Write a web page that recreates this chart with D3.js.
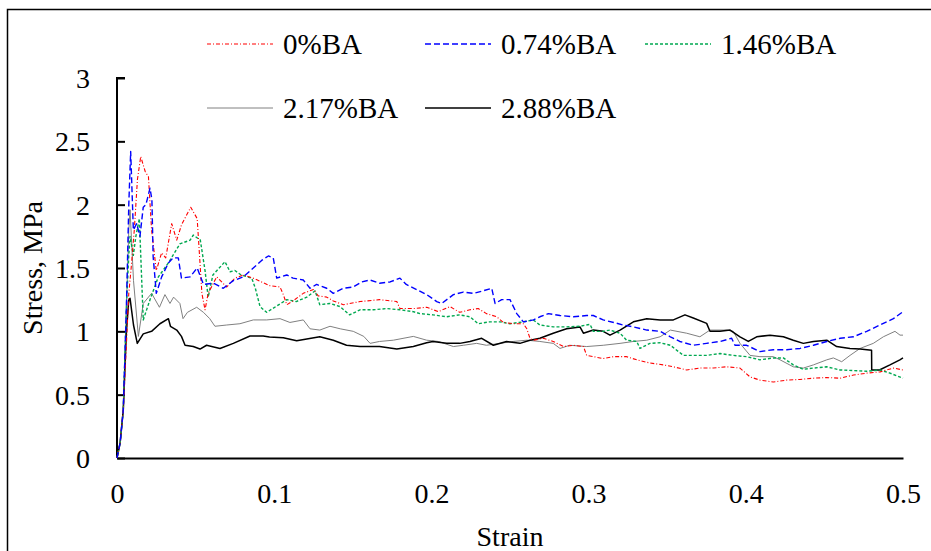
<!DOCTYPE html>
<html><head><meta charset="utf-8">
<script src="https://cdn.jsdelivr.net/npm/d3@7/dist/d3.min.js"></script>
<style>body{margin:0;background:#fff;} svg{display:block;}</style></head>
<body><svg id="c" width="931" height="551" font-family="Liberation Serif"></svg>
<script>
const xTicks=[0,0.1,0.2,0.3,0.4,0.5];
const yTicks=[0,0.5,1,1.5,2,2.5,3];
const seriesNames=["0%BA","0.74%BA","1.46%BA","2.17%BA","2.88%BA"];
const s0=[[0,0],[0.002,0.12],[0.004,0.38],[0.006,0.9],[0.0075,1.3],[0.009,1.5],[0.011,1.8],[0.013,2.2],[0.0151,2.38],[0.017,2.3],[0.018,2.26],[0.02,2.22],[0.022,1.80],[0.025,1.48],[0.0284,1.62],[0.031,1.58],[0.0348,1.85],[0.038,1.72],[0.041,1.84],[0.0469,1.98],[0.051,1.89],[0.0528,1.54],[0.054,1.30],[0.056,1.17],[0.058,1.30],[0.0634,1.43],[0.0698,1.35],[0.075,1.42],[0.0804,1.445],[0.0867,1.42],[0.092,1.39],[0.0973,1.36],[0.1037,1.35],[0.1058,1.29],[0.108,1.21],[0.112,1.24],[0.1185,1.30],[0.125,1.33],[0.128,1.28],[0.1334,1.27],[0.1376,1.24],[0.144,1.21],[0.1546,1.235],[0.167,1.25],[0.178,1.235],[0.180,1.18],[0.189,1.18],[0.197,1.19],[0.2044,1.155],[0.2118,1.195],[0.218,1.15],[0.2245,1.17],[0.2298,1.18],[0.235,1.14],[0.2415,1.115],[0.2458,1.07],[0.252,1.06],[0.2585,1.06],[0.2607,1.02],[0.2627,0.945],[0.265,0.93],[0.2712,0.945],[0.2775,0.92],[0.284,0.88],[0.2903,0.89],[0.2967,0.88],[0.2988,0.81],[0.303,0.80],[0.3093,0.785],[0.3157,0.80],[0.3242,0.80],[0.3306,0.775],[0.339,0.75],[0.3476,0.735],[0.354,0.72],[0.3624,0.695],[0.3708,0.71],[0.3793,0.71],[0.3878,0.72],[0.3963,0.71],[0.4027,0.64],[0.409,0.615],[0.4175,0.60],[0.426,0.615],[0.4345,0.62],[0.443,0.63],[0.4515,0.635],[0.46,0.63],[0.4685,0.655],[0.4769,0.67],[0.4854,0.68],[0.4939,0.71],[0.5,0.695]];
const s1=[[0,0],[0.002,0.12],[0.004,0.38],[0.006,1.2],[0.0075,2.0],[0.0087,2.42],[0.0104,1.80],[0.0125,1.85],[0.0146,1.75],[0.0167,1.98],[0.0184,2.0],[0.021,2.13],[0.0222,2.04],[0.023,1.59],[0.025,1.30],[0.0284,1.43],[0.0327,1.54],[0.0357,1.58],[0.039,1.58],[0.041,1.42],[0.0465,1.43],[0.051,1.50],[0.055,1.37],[0.0614,1.38],[0.0676,1.34],[0.074,1.40],[0.0803,1.43],[0.0867,1.50],[0.092,1.56],[0.0963,1.595],[0.0994,1.58],[0.1016,1.42],[0.108,1.445],[0.112,1.42],[0.1185,1.405],[0.1228,1.34],[0.127,1.37],[0.1334,1.34],[0.1376,1.30],[0.144,1.34],[0.1503,1.35],[0.1556,1.39],[0.161,1.405],[0.167,1.38],[0.1737,1.39],[0.180,1.42],[0.184,1.37],[0.1906,1.33],[0.197,1.29],[0.2034,1.235],[0.2066,1.22],[0.214,1.29],[0.2203,1.31],[0.2267,1.30],[0.233,1.32],[0.2384,1.34],[0.2405,1.22],[0.2447,1.25],[0.250,1.25],[0.2543,1.14],[0.2585,1.075],[0.265,1.09],[0.269,1.115],[0.2744,1.14],[0.2818,1.125],[0.2903,1.115],[0.2988,1.125],[0.303,1.125],[0.3093,1.09],[0.316,1.07],[0.322,1.05],[0.3285,1.035],[0.337,1.01],[0.3455,1.00],[0.352,0.957],[0.358,0.92],[0.3666,0.89],[0.375,0.905],[0.3836,0.92],[0.391,0.945],[0.3931,0.89],[0.4005,0.89],[0.409,0.84],[0.4175,0.855],[0.426,0.855],[0.4345,0.865],[0.443,0.89],[0.4515,0.92],[0.46,0.945],[0.4685,0.957],[0.4769,1.00],[0.4854,1.05],[0.4939,1.10],[0.5,1.155]];
const s2=[[0,0],[0.002,0.12],[0.004,0.38],[0.006,1.2],[0.0075,1.6],[0.0083,1.75],[0.0104,1.6],[0.012,1.75],[0.0142,1.89],[0.0167,1.09],[0.021,1.25],[0.0263,1.43],[0.0327,1.54],[0.040,1.69],[0.0465,1.72],[0.0485,1.76],[0.053,1.72],[0.056,1.48],[0.058,1.27],[0.061,1.445],[0.0687,1.55],[0.0719,1.47],[0.075,1.48],[0.079,1.445],[0.0857,1.42],[0.088,1.34],[0.091,1.195],[0.0952,1.15],[0.1016,1.20],[0.108,1.25],[0.114,1.235],[0.1207,1.27],[0.126,1.32],[0.129,1.21],[0.1355,1.22],[0.1419,1.195],[0.148,1.13],[0.1546,1.17],[0.163,1.17],[0.1716,1.18],[0.180,1.17],[0.1885,1.155],[0.1927,1.14],[0.201,1.13],[0.2097,1.115],[0.218,1.13],[0.2245,1.115],[0.2298,1.06],[0.237,1.075],[0.2436,1.075],[0.250,1.06],[0.2585,1.075],[0.2648,1.09],[0.269,1.05],[0.2775,1.035],[0.286,1.035],[0.2945,1.04],[0.3009,1.055],[0.303,1.00],[0.3093,1.00],[0.3136,1.01],[0.32,0.985],[0.3242,0.93],[0.3306,0.92],[0.3327,0.865],[0.339,0.905],[0.3455,0.91],[0.352,0.89],[0.3603,0.81],[0.3666,0.81],[0.375,0.81],[0.3836,0.825],[0.392,0.81],[0.4005,0.80],[0.409,0.775],[0.4175,0.79],[0.4239,0.79],[0.4302,0.735],[0.4366,0.70],[0.443,0.71],[0.4515,0.72],[0.46,0.695],[0.4685,0.69],[0.4769,0.685],[0.4854,0.695],[0.4917,0.67],[0.5,0.63]];
const s3=[[0,0],[0.002,0.12],[0.004,0.38],[0.006,1.2],[0.0075,1.8],[0.0083,1.96],[0.0105,1.4],[0.0136,0.96],[0.0167,1.22],[0.022,1.30],[0.027,1.19],[0.0305,1.29],[0.0337,1.22],[0.036,1.27],[0.040,1.22],[0.042,1.10],[0.0448,1.15],[0.0507,1.19],[0.055,1.15],[0.059,1.10],[0.0623,1.04],[0.0698,1.05],[0.0782,1.06],[0.0867,1.09],[0.0952,1.09],[0.1037,1.10],[0.110,1.07],[0.1185,1.09],[0.1228,1.02],[0.129,1.01],[0.1355,1.04],[0.142,1.02],[0.1503,1.00],[0.157,0.96],[0.161,0.905],[0.167,0.92],[0.1758,0.93],[0.1885,0.96],[0.197,0.93],[0.2044,0.92],[0.214,0.88],[0.2203,0.89],[0.2288,0.905],[0.235,0.89],[0.2436,0.905],[0.252,0.92],[0.2607,0.93],[0.269,0.92],[0.2775,0.905],[0.2818,0.865],[0.288,0.89],[0.2988,0.88],[0.3093,0.89],[0.32,0.905],[0.3285,0.92],[0.337,0.93],[0.3455,0.957],[0.352,1.01],[0.3624,0.985],[0.3708,0.957],[0.3772,1.01],[0.3878,1.01],[0.392,1.00],[0.3963,0.905],[0.4027,0.81],[0.409,0.80],[0.4175,0.80],[0.4218,0.775],[0.4302,0.72],[0.4366,0.71],[0.443,0.735],[0.4515,0.775],[0.4557,0.79],[0.461,0.76],[0.4663,0.81],[0.4727,0.865],[0.4811,0.905],[0.4875,0.957],[0.4949,1.00],[0.4981,0.97],[0.5,0.97]];
const s4=[[0,0],[0.002,0.12],[0.004,0.38],[0.006,1.0],[0.0075,1.25],[0.0083,1.26],[0.0105,1.05],[0.0129,0.905],[0.0167,0.98],[0.022,1.0],[0.0273,1.06],[0.0327,1.10],[0.034,1.04],[0.038,1.01],[0.041,0.96],[0.0433,0.89],[0.0485,0.88],[0.0528,0.86],[0.057,0.89],[0.0655,0.865],[0.074,0.905],[0.0846,0.963],[0.093,0.963],[0.097,0.955],[0.1058,0.95],[0.1143,0.925],[0.1207,0.94],[0.129,0.957],[0.1376,0.93],[0.146,0.89],[0.1546,0.88],[0.167,0.88],[0.178,0.86],[0.1885,0.88],[0.197,0.91],[0.201,0.92],[0.2097,0.905],[0.218,0.905],[0.2245,0.92],[0.232,0.945],[0.2394,0.89],[0.2478,0.92],[0.2563,0.905],[0.2627,0.93],[0.269,0.945],[0.2775,0.985],[0.286,1.02],[0.2945,1.035],[0.2967,0.985],[0.303,1.01],[0.3093,1.00],[0.3136,0.97],[0.32,1.01],[0.3285,1.075],[0.337,1.10],[0.3455,1.09],[0.3539,1.09],[0.3613,1.13],[0.3666,1.105],[0.3751,1.063],[0.3772,1.00],[0.3836,1.00],[0.39,1.01],[0.3963,0.957],[0.4016,0.92],[0.4069,0.957],[0.4154,0.97],[0.4239,0.957],[0.4302,0.93],[0.4366,0.905],[0.443,0.92],[0.4515,0.93],[0.4578,0.88],[0.4663,0.865],[0.4727,0.86],[0.480,0.85],[0.4801,0.695],[0.485,0.695],[0.4917,0.735],[0.498,0.775],[0.5,0.79]];
const seriesData=[s0,s1,s2,s3,s4];

const FONT="Liberation Serif";
const styles=[
 {color:"#ff0000",width:1.1,dash:"4,2,1,2"},
 {color:"#0000ff",width:1.4,dash:"6,3"},
 {color:"#00a850",width:1.4,dash:"3,2"},
 {color:"#808080",width:1,dash:null},
 {color:"#000000",width:1.5,dash:null}
];

const svg=d3.select("#c");
svg.append("rect").attr("x",7.5).attr("y",9.5).attr("width",960).attr("height",600)
  .attr("fill","#fff").attr("stroke","#000").attr("stroke-width",1.5);

const x=d3.scaleLinear().domain([0,0.5]).range([117,903]);
const y=d3.scaleLinear().domain([0,3]).range([458,78]);

// y axis
const ya=svg.append("g").attr("transform","translate(117,0)")
  .call(d3.axisRight(y).tickValues(yTicks).tickSize(8).tickFormat(d=>d3.format("")(d)));
ya.attr("font-family",FONT);
ya.select(".domain").attr("stroke","#000").attr("stroke-width",2).attr("d","M8,78H0V458");
ya.selectAll(".tick line").attr("stroke","#000").attr("stroke-width",2);
ya.selectAll(".tick text").attr("x",-27).attr("text-anchor","end").attr("dy","0.34em")
  .attr("font-size",28).attr("fill","#000").attr("font-family",FONT);

// x axis
const xa=svg.append("g").attr("transform","translate(0,458)")
  .call(d3.axisBottom(x).tickValues(xTicks).tickSize(0).tickFormat(d=>d3.format("")(d)));
xa.attr("font-family",FONT);
xa.select(".domain").attr("stroke","#000").attr("stroke-width",2);
xa.selectAll(".tick text").attr("y",45).attr("dy",null)
  .attr("font-size",28).attr("fill","#000").attr("font-family",FONT);

// titles
svg.append("text").attr("x",510).attr("y",546).attr("text-anchor","middle")
  .attr("font-family",FONT).attr("font-size",28).text("Strain");
svg.append("text").attr("transform","translate(42,268) rotate(-90)").attr("text-anchor","middle")
  .attr("font-family",FONT).attr("font-size",28).text("Stress, MPa");

// lines
const line=d3.line().x(d=>x(d[0])).y(d=>y(d[1]));
const order=[3,4,2,0,1];
order.forEach(i=>{
  const st=styles[i];
  svg.append("path").datum(seriesData[i]).attr("d",line).attr("fill","none")
    .attr("stroke",st.color).attr("stroke-width",st.width)
    .attr("stroke-dasharray",st.dash).attr("stroke-linejoin","round");
});

// legend
const legPos=[[207,44],[425,44],[645,44],[207,108],[425,108]];
seriesNames.forEach((n,i)=>{
  const st=styles[i];const p=legPos[i];
  svg.append("line").attr("x1",p[0]).attr("x2",p[0]+66).attr("y1",p[1]).attr("y2",p[1])
    .attr("stroke",st.color).attr("stroke-width",st.width).attr("stroke-dasharray",st.dash);
  svg.append("text").attr("x",p[0]+76).attr("y",p[1]+10).attr("font-family",FONT)
    .attr("font-size",29).text(n);
});
</script></body></html>
